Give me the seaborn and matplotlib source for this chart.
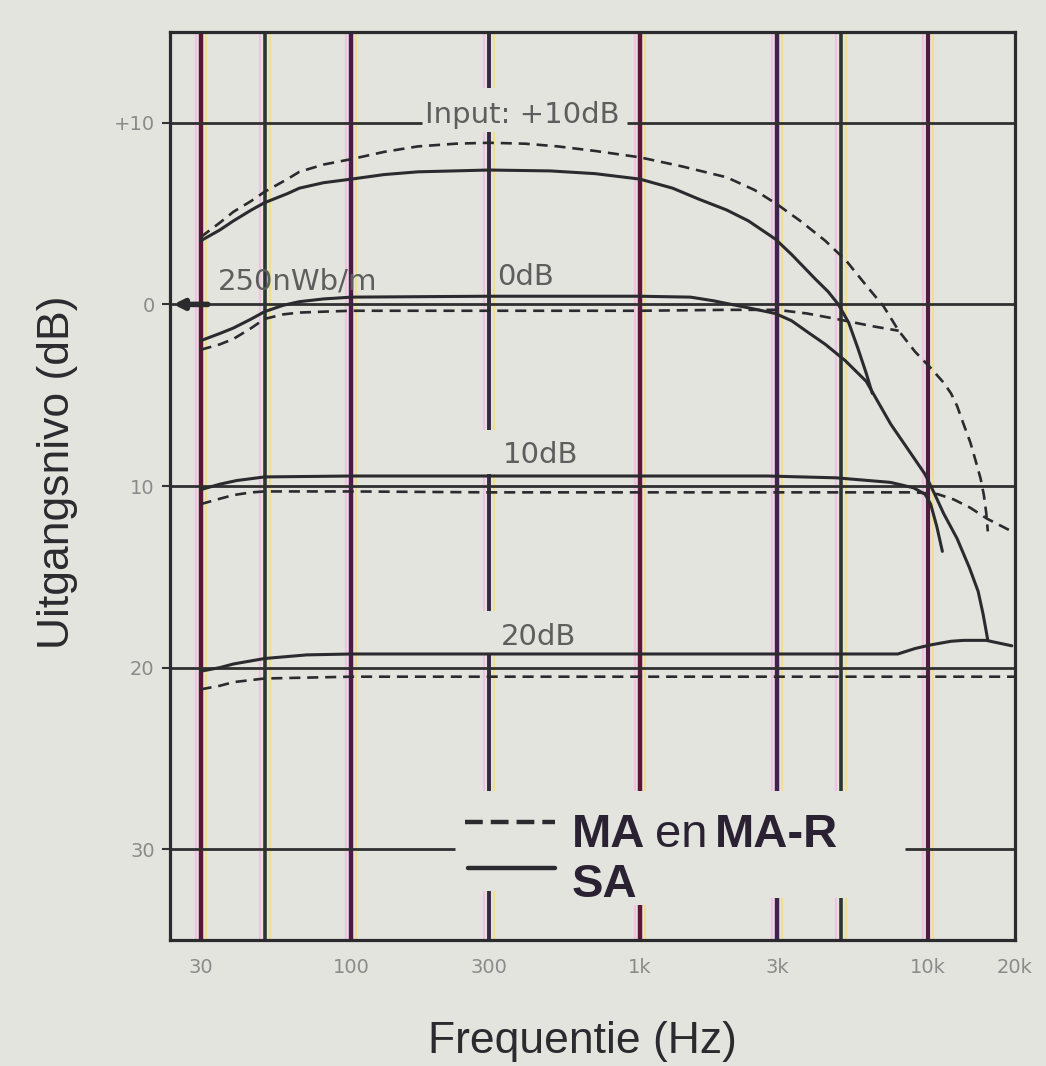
import matplotlib
matplotlib.use("Agg")
import matplotlib.pyplot as plt
import matplotlib.transforms as mtransforms
from matplotlib.lines import Line2D
from matplotlib.ticker import NullLocator, FixedLocator, FixedFormatter
import seaborn as sns

# ---------------- data ----------------
freq_ticks = [30, 100, 300, 1000, 3000, 10000, 20000]
freq_tick_labels = ["30", "100", "300", "1k", "3k", "10k", "20k"]
level_ticks = [10, 0, -10, -20, -30]
level_tick_labels = ["+10", "0", "10", "20", "30"]
grid_freqs = [30, 50, 100, 300, 1000, 3000, 5000, 10000]

# MA en MA-R (dashed)
ma_p10_f = [30, 35, 39, 45, 50, 60, 66, 80, 100, 130, 170, 230, 300, 400, 520, 700, 1000,
            1400, 2000, 2500, 3000, 3600, 4400, 5200, 6200, 7000, 7900, 9000, 10200,
            11300, 12000, 12600, 13200, 14000, 14600, 15200, 15600, 15900, 16100]
ma_p10_db = [3.7, 4.5, 5.1, 5.7, 6.2, 6.9, 7.3, 7.7, 8.0, 8.4, 8.7, 8.85, 8.9, 8.85, 8.7,
             8.45, 8.1, 7.6, 7.0, 6.3, 5.5, 4.6, 3.5, 2.4, 0.9, -0.1, -1.45, -2.6, -3.5,
             -4.3, -4.9, -5.6, -6.5, -7.6, -8.6, -9.6, -10.5, -11.5, -12.5]
ma_0_f = [30, 35, 39, 45, 50, 58, 66, 80, 100, 300, 1000, 2000, 3000, 3800, 4800, 6400, 7900]
ma_0_db = [-2.5, -2.2, -1.9, -1.3, -0.8, -0.55, -0.45, -0.4, -0.35, -0.35, -0.35, -0.3,
           -0.3, -0.5, -0.8, -1.2, -1.45]
ma_m10_f = [30, 35, 39, 45, 50, 100, 300, 1000, 3000, 9000, 10800, 12300, 14000, 16000, 19500]
ma_m10_db = [-11.0, -10.7, -10.5, -10.35, -10.3, -10.3, -10.35, -10.35, -10.35, -10.35,
             -10.45, -10.75, -11.2, -11.8, -12.5]
ma_m20_f = [30, 35, 39, 50, 100, 300, 1000, 3000, 10000, 20000]
ma_m20_db = [-21.2, -21.0, -20.8, -20.6, -20.5, -20.5, -20.5, -20.5, -20.5, -20.5]

# SA (solid)
sa_p10_f = [30, 35, 39, 45, 50, 60, 66, 80, 100, 130, 170, 300, 490, 700, 1000, 1300,
            1600, 2000, 2380, 2950, 3360, 4060, 4500, 4880, 5300, 5700, 6100, 6400]
sa_p10_db = [3.5, 4.1, 4.6, 5.2, 5.6, 6.1, 6.4, 6.7, 6.9, 7.15, 7.3, 7.4, 7.35, 7.2, 6.9,
             6.4, 5.8, 5.2, 4.6, 3.6, 2.75, 1.4, 0.7, 0.0, -1.0, -2.4, -3.8, -4.9]
sa_0_f = [30, 35, 39, 45, 50, 58, 66, 80, 100, 300, 1000, 1500, 1800, 2400, 2950, 3360,
          3800, 4400, 5160, 6100, 7420, 8700, 9750, 10500, 11300, 12600, 13900, 14900,
          15500, 16100]
sa_0_db = [-2.0, -1.6, -1.3, -0.8, -0.4, -0.05, 0.15, 0.3, 0.4, 0.45, 0.45, 0.4, 0.2,
           -0.2, -0.5, -0.9, -1.5, -2.2, -3.1, -4.24, -6.6, -8.2, -9.35, -10.4, -11.5,
           -12.9, -14.5, -15.8, -17.05, -18.5]
sa_m10_f = [30, 35, 40, 50, 100, 300, 1000, 2770, 4800, 7400, 8900, 9750, 10200, 10700, 11200]
sa_m10_db = [-10.2, -9.9, -9.7, -9.5, -9.45, -9.45, -9.45, -9.45, -9.55, -9.8, -10.1,
             -10.45, -11.0, -12.2, -13.6]
sa_m20_f = [30, 35, 39, 50, 70, 100, 300, 1000, 3000, 7850, 9000, 10200, 12000, 13300,
            15900, 17000, 19500]
sa_m20_db = [-20.2, -20.0, -19.8, -19.5, -19.3, -19.25, -19.25, -19.25, -19.25, -19.25,
             -18.95, -18.75, -18.55, -18.5, -18.5, -18.6, -18.8]

# ---------------- style ----------------
sns.set_theme(style="white")
plt.rcParams["font.family"] = ["Liberation Sans", "DejaVu Sans"]

W, H = 1046, 1066
BG = "#e4e4df"
INK = "#2b2a2e"
GREY = "#8a8a8a"


def P(x, y):
    return x / W, 1 - y / H


fig = plt.figure(figsize=(W / 100, H / 100), dpi=100, facecolor=BG)
ax = fig.add_axes([170 / W, 1 - 940 / H, 845 / W, 908 / H])
ax.set_facecolor(BG)
ax.set_xscale("log")
ax.set_xlim(23.5, 20000)
ax.set_ylim(-35, 15)

# vertical grid lines (with gaps where text sits)
full = [(-35, 15)]
vsegs = {
    30: full, 50: full, 100: full,
    300: [(11.9, 15), (-6.9, 9.5), (-16.9, -9.35), (-26.8, -19.3), (-35, -32.3)],
    1000: [(-26.8, 15), (-35, -33.1)],
    3000: [(-26.8, 15), (-35, -32.7)],
    5000: [(-26.8, 15), (-35, -32.7)],
    10000: full,
}
vcolors = {30: "#5e1238", 50: "#2d3530", 100: "#4e1a4a", 300: "#35283f",
           1000: "#5e1538", 3000: "#43204f", 5000: "#2d3530", 10000: "#531a40"}
vwidth = {30: 3.2, 50: 2.6, 100: 3.2, 300: 2.8, 1000: 3.2, 3000: 3.2, 5000: 2.6, 10000: 3.0}
left_off = mtransforms.offset_copy(ax.transData, fig, x=-5, y=0, units="dots")
right_off = mtransforms.offset_copy(ax.transData, fig, x=5, y=0, units="dots")
for f in grid_freqs:
    for lo, hi in vsegs[f]:
        ax.vlines(f, lo, hi, colors="#f2c2e2", lw=1.6, transform=left_off, zorder=1)
        ax.vlines(f, lo, hi, colors="#efe090", lw=1.6, transform=right_off, zorder=1)
        ax.vlines(f, lo, hi, colors=vcolors[f], lw=vwidth[f], zorder=2)

# horizontal grid lines
hsegs = {10: [(23.5, 176), (903, 20000)], 0: [(23.5, 20000)], -10: [(23.5, 20000)],
         -20: [(23.5, 20000)], -30: [(23.5, 228), (8300, 20000)]}
for lvl, segs in hsegs.items():
    for a, b in segs:
        ax.hlines(lvl, a, b, colors="#303030", lw=2.0, zorder=2)

# reference arrow at 0 dB (250 nWb/m)
ax.annotate("", xy=(23.6, 0), xytext=(32.5, 0),
            arrowprops=dict(arrowstyle="-|>", lw=4, color=INK, mutation_scale=14),
            zorder=4)

# curves
dash = (0, (4.2, 2.6))
curves = [
    (ma_p10_f, ma_p10_db, dash, 1.9),
    (ma_0_f, ma_0_db, dash, 1.9),
    (ma_m10_f, ma_m10_db, dash, 1.9),
    (ma_m20_f, ma_m20_db, dash, 1.9),
    (sa_p10_f, sa_p10_db, "-", 2.2),
    (sa_0_f, sa_0_db, "-", 2.2),
    (sa_m10_f, sa_m10_db, "-", 2.2),
    (sa_m20_f, sa_m20_db, "-", 2.2),
]
for fx, dy, ls, lw in curves:
    sns.lineplot(x=fx, y=dy, ax=ax, color=INK, linestyle=ls, lw=lw, sort=False,
                 estimator=None, zorder=3)

# ticks
ax.xaxis.set_major_locator(FixedLocator(freq_ticks))
ax.xaxis.set_major_formatter(FixedFormatter(freq_tick_labels))
ax.xaxis.set_minor_locator(NullLocator())
ax.set_yticks(level_ticks)
ax.set_yticklabels(level_tick_labels)
ax.tick_params(axis="x", length=0, pad=13, labelsize=14, labelcolor=GREY)
ax.tick_params(axis="y", length=6, width=1.5, color="#333333", pad=5, labelsize=14,
               labelcolor=GREY, left=True)
for lab in ax.get_xticklabels() + ax.get_yticklabels():
    lab.set_family(["DejaVu Sans"])

for s in ax.spines.values():
    s.set_visible(True)
    s.set_color(INK)
    s.set_linewidth(2.3)
    s.set_zorder(5)

# axis labels
ax.set_xlabel("Frequentie (Hz)", fontsize=32, color=INK, va="center")
ax.xaxis.set_label_coords((582 - 170) / 845, (940 - 1041) / 908)
ax.set_ylabel("Uitgangsnivo (dB)", fontsize=32, color=INK, va="center")
ax.yaxis.set_label_coords((58 - 170) / 845, (940 - 472) / 908)

# curve annotations
ann = dict(fontsize=21, color="#5e5e5e", family=["DejaVu Sans"], ha="left", va="baseline")
fig.text(*P(425, 123), "Input: +10dB", **ann)
fig.text(*P(497, 285), "0dB", **ann)
fig.text(*P(218, 290), "250nWb/m", **ann)
fig.text(*P(503, 463), "10dB", **ann)
fig.text(*P(501, 645), "20dB", **ann)

# legend
fig.add_artist(Line2D([465 / W, 555 / W], [1 - 822 / H] * 2, color=INK, lw=3.2,
                      linestyle=(0, (4.0, 1.8))))
fig.add_artist(Line2D([468 / W, 555 / W], [1 - 868 / H] * 2, color=INK, lw=3.2))
leg = dict(fontsize=34, color="#2a2233", va="baseline", ha="left")
fig.text(*P(572, 847), "MA", fontweight="bold", **leg)
fig.text(*P(655, 847), "en", **leg)
fig.text(*P(715, 847), "MA-R", fontweight="bold", **leg)
fig.text(*P(572, 897), "SA", fontweight="bold", **leg)

fig.savefig("out.png", dpi=100, facecolor=BG)
